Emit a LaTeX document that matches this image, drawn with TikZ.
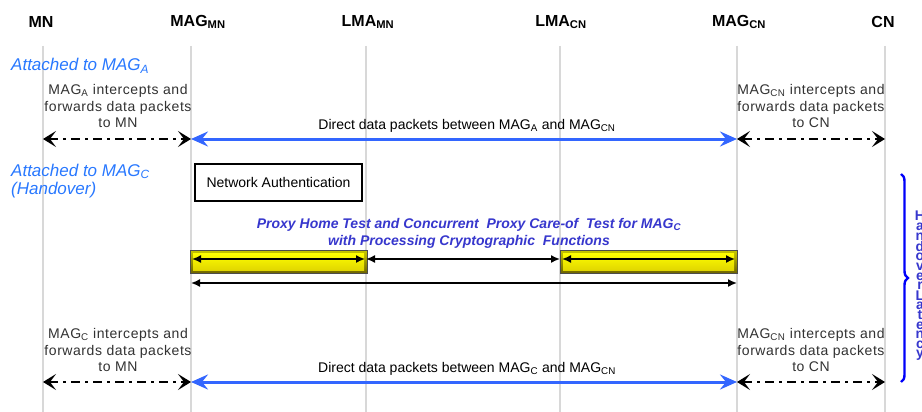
\documentclass[tikz,border=0pt]{standalone}
\usepackage{fontspec}
\usepackage{amsmath}
\setmainfont{Liberation Sans}
\newfontfamily\spacedfont[LetterSpace=4]{Liberation Sans}
\usetikzlibrary{arrows.meta,decorations.pathreplacing}
\definecolor{lifegray}{RGB}{216,216,216}
\definecolor{attblue}{RGB}{40,120,255}
\definecolor{arrblue}{RGB}{51,102,255}
\definecolor{proxblue}{RGB}{55,55,205}
\definecolor{bracblue}{RGB}{0,0,250}
\definecolor{labgray}{RGB}{50,50,50}
\definecolor{baredgetop}{RGB}{200,200,0}
\definecolor{baredgebot}{RGB}{110,100,0}
\definecolor{baryellow}{RGB}{255,255,0}
\definecolor{baryellowdark}{RGB}{225,215,0}
\begin{document}
\begin{tikzpicture}[x=1pt,y=-1pt,
  lifeline/.style={draw=lifegray,line width=2.2pt},
  headlabel/.style={font=\fontsize{16}{18}\selectfont\bfseries,inner sep=0pt},
  attlabel/.style={font=\fontsize{17}{18}\selectfont\itshape,text=attblue,inner sep=0pt,anchor=west,align=left},
  interlabel/.style={font=\fontsize{14}{16.5}\selectfont\spacedfont,text=labgray,align=center,inner sep=0pt},
  directlabel/.style={font=\fontsize{14}{16}\selectfont,inner sep=0pt},
  proxlabel/.style={font=\fontsize{14}{17}\selectfont\bfseries\itshape,text=proxblue,align=center,inner sep=0pt},
  dasharr/.style={line width=2.4pt,dash pattern=on 9pt off 5pt on 3pt off 5pt,
     {Stealth[length=13pt,width=16pt,inset=6pt]}-{Stealth[length=13pt,width=16pt,inset=6pt]}},
  bluearr/.style={draw=arrblue,line width=3pt,
     {Stealth[length=17pt,width=15pt,inset=6pt]}-{Stealth[length=17pt,width=15pt,inset=6pt]}},
  thinarr/.style={line width=1.6pt,{Latex[length=9pt,width=8pt]}-{Latex[length=9pt,width=8pt]}},
  authbox/.style={draw,line width=1.3pt,minimum width=167pt,minimum height=37pt,inner sep=0pt,font=\fontsize{14}{16}\selectfont},
  bracestyle/.style={draw=bracblue,line width=2.4pt,decorate,decoration={brace,amplitude=7pt}},
  latlabel/.style={font=\fontsize{14}{9.6}\selectfont\bfseries,text=proxblue,align=center,inner sep=0pt},
]
\useasboundingbox (0,0) rectangle (922,412);
\fill[white] (0,0) rectangle (922,412);

% lifelines
\foreach \n/\x in {mn/43,magmn/191,lmamn/366,lmacn/560,magcn/737,cn/885}{
  \coordinate (\n-top) at (\x,46);
  \coordinate (\n-bot) at (\x,412);
  \coordinate (\n-r1) at (\x,139);
  \coordinate (\n-r2) at (\x,382);
  \coordinate (\n-p) at (\x,259);
  \coordinate (\n-q) at (\x,283);
  \draw[lifeline] (\n-top) -- (\n-bot);
}

% headers
\node[headlabel] (h-mn) at (41,22) {MN};
\node[headlabel] (h-magmn) at (198,22) {MAG$_\text{MN}$};
\node[headlabel] (h-lmamn) at (368,22) {LMA$_\text{MN}$};
\node[headlabel] (h-lmacn) at (561,22) {LMA$_\text{CN}$};
\node[headlabel] (h-magcn) at (739,22) {MAG$_\text{CN}$};
\node[headlabel] (h-cn) at (883,22) {CN};

% phase 1
\node[attlabel] (att-a) at (11,66) {Attached to MAG$_\text{A}$};
\node[interlabel] (int-a-l) at (118,106) {MAG$_\text{A}$ intercepts and\\forwards data packets\\to MN};
\node[interlabel] (int-a-r) at (811,106) {MAG$_\text{CN}$ intercepts and\\forwards data packets\\to CN};
\node[directlabel] (dir-a) at (467,126) {Direct data packets between MAG$_\text{A}$ and MAG$_\text{CN}$};
\draw[dasharr] (mn-r1) -- (magmn-r1);
\draw[bluearr] (magmn-r1) -- (magcn-r1);
\draw[dasharr] (magcn-r1) -- (cn-r1);

% phase 2
\node[attlabel] (att-c) at (11,181) {Attached to MAG$_\text{C}$\\(Handover)};
\node[authbox] (auth) at (278.5,182.5) {Network Authentication};
\node[proxlabel] (prox) at (469,233.5) {Proxy Home Test and Concurrent\ \ Proxy Care-of\ \ Test for MAG$_\text{C}$\\with Processing Cryptographic\ \ Functions};

% yellow bars (bevelled)
\foreach \a/\b in {190/367,560/737}{
  \shade[top color=baredgetop,bottom color=baredgebot] (\a,250) rectangle (\b,273);
  \shade[top color=baryellow,bottom color=baryellowdark] (\a+3,253) rectangle (\b-3,270);
  \draw[black!70,line width=1pt] (\a,250) rectangle (\b,273);
}
\coordinate (bar1-l) at (192,259);
\coordinate (bar1-r) at (365,259);
\coordinate (bar2-l) at (562,259);
\coordinate (bar2-r) at (735,259);
\draw[thinarr] (bar1-l) -- (bar1-r);
\draw[thinarr] (lmamn-p) -- (lmacn-p);
\draw[thinarr] (bar2-l) -- (bar2-r);
\draw[thinarr] (magmn-q) -- (magcn-q);

% phase 3
\node[interlabel] (int-c-l) at (118,350) {MAG$_\text{C}$ intercepts and\\forwards data packets\\to MN};
\node[interlabel] (int-c-r) at (811,350) {MAG$_\text{CN}$ intercepts and\\forwards data packets\\to CN};
\node[directlabel] (dir-c) at (467,369) {Direct data packets between MAG$_\text{C}$ and MAG$_\text{CN}$};
\draw[dasharr] (mn-r2) -- (magmn-r2);
\draw[bluearr] (magmn-r2) -- (magcn-r2);
\draw[dasharr] (magcn-r2) -- (cn-r2);

% brace and latency label
\coordinate (br-top) at (901,174);
\coordinate (br-bot) at (901,382);
\draw[bracestyle] (br-top) -- (br-bot);
\node[latlabel] (lat) at (920,286)
  {H\\a\\n\\d\\o\\v\\e\\r\\L\\a\\t\\e\\n\\c\\y};
\end{tikzpicture}
\end{document}
